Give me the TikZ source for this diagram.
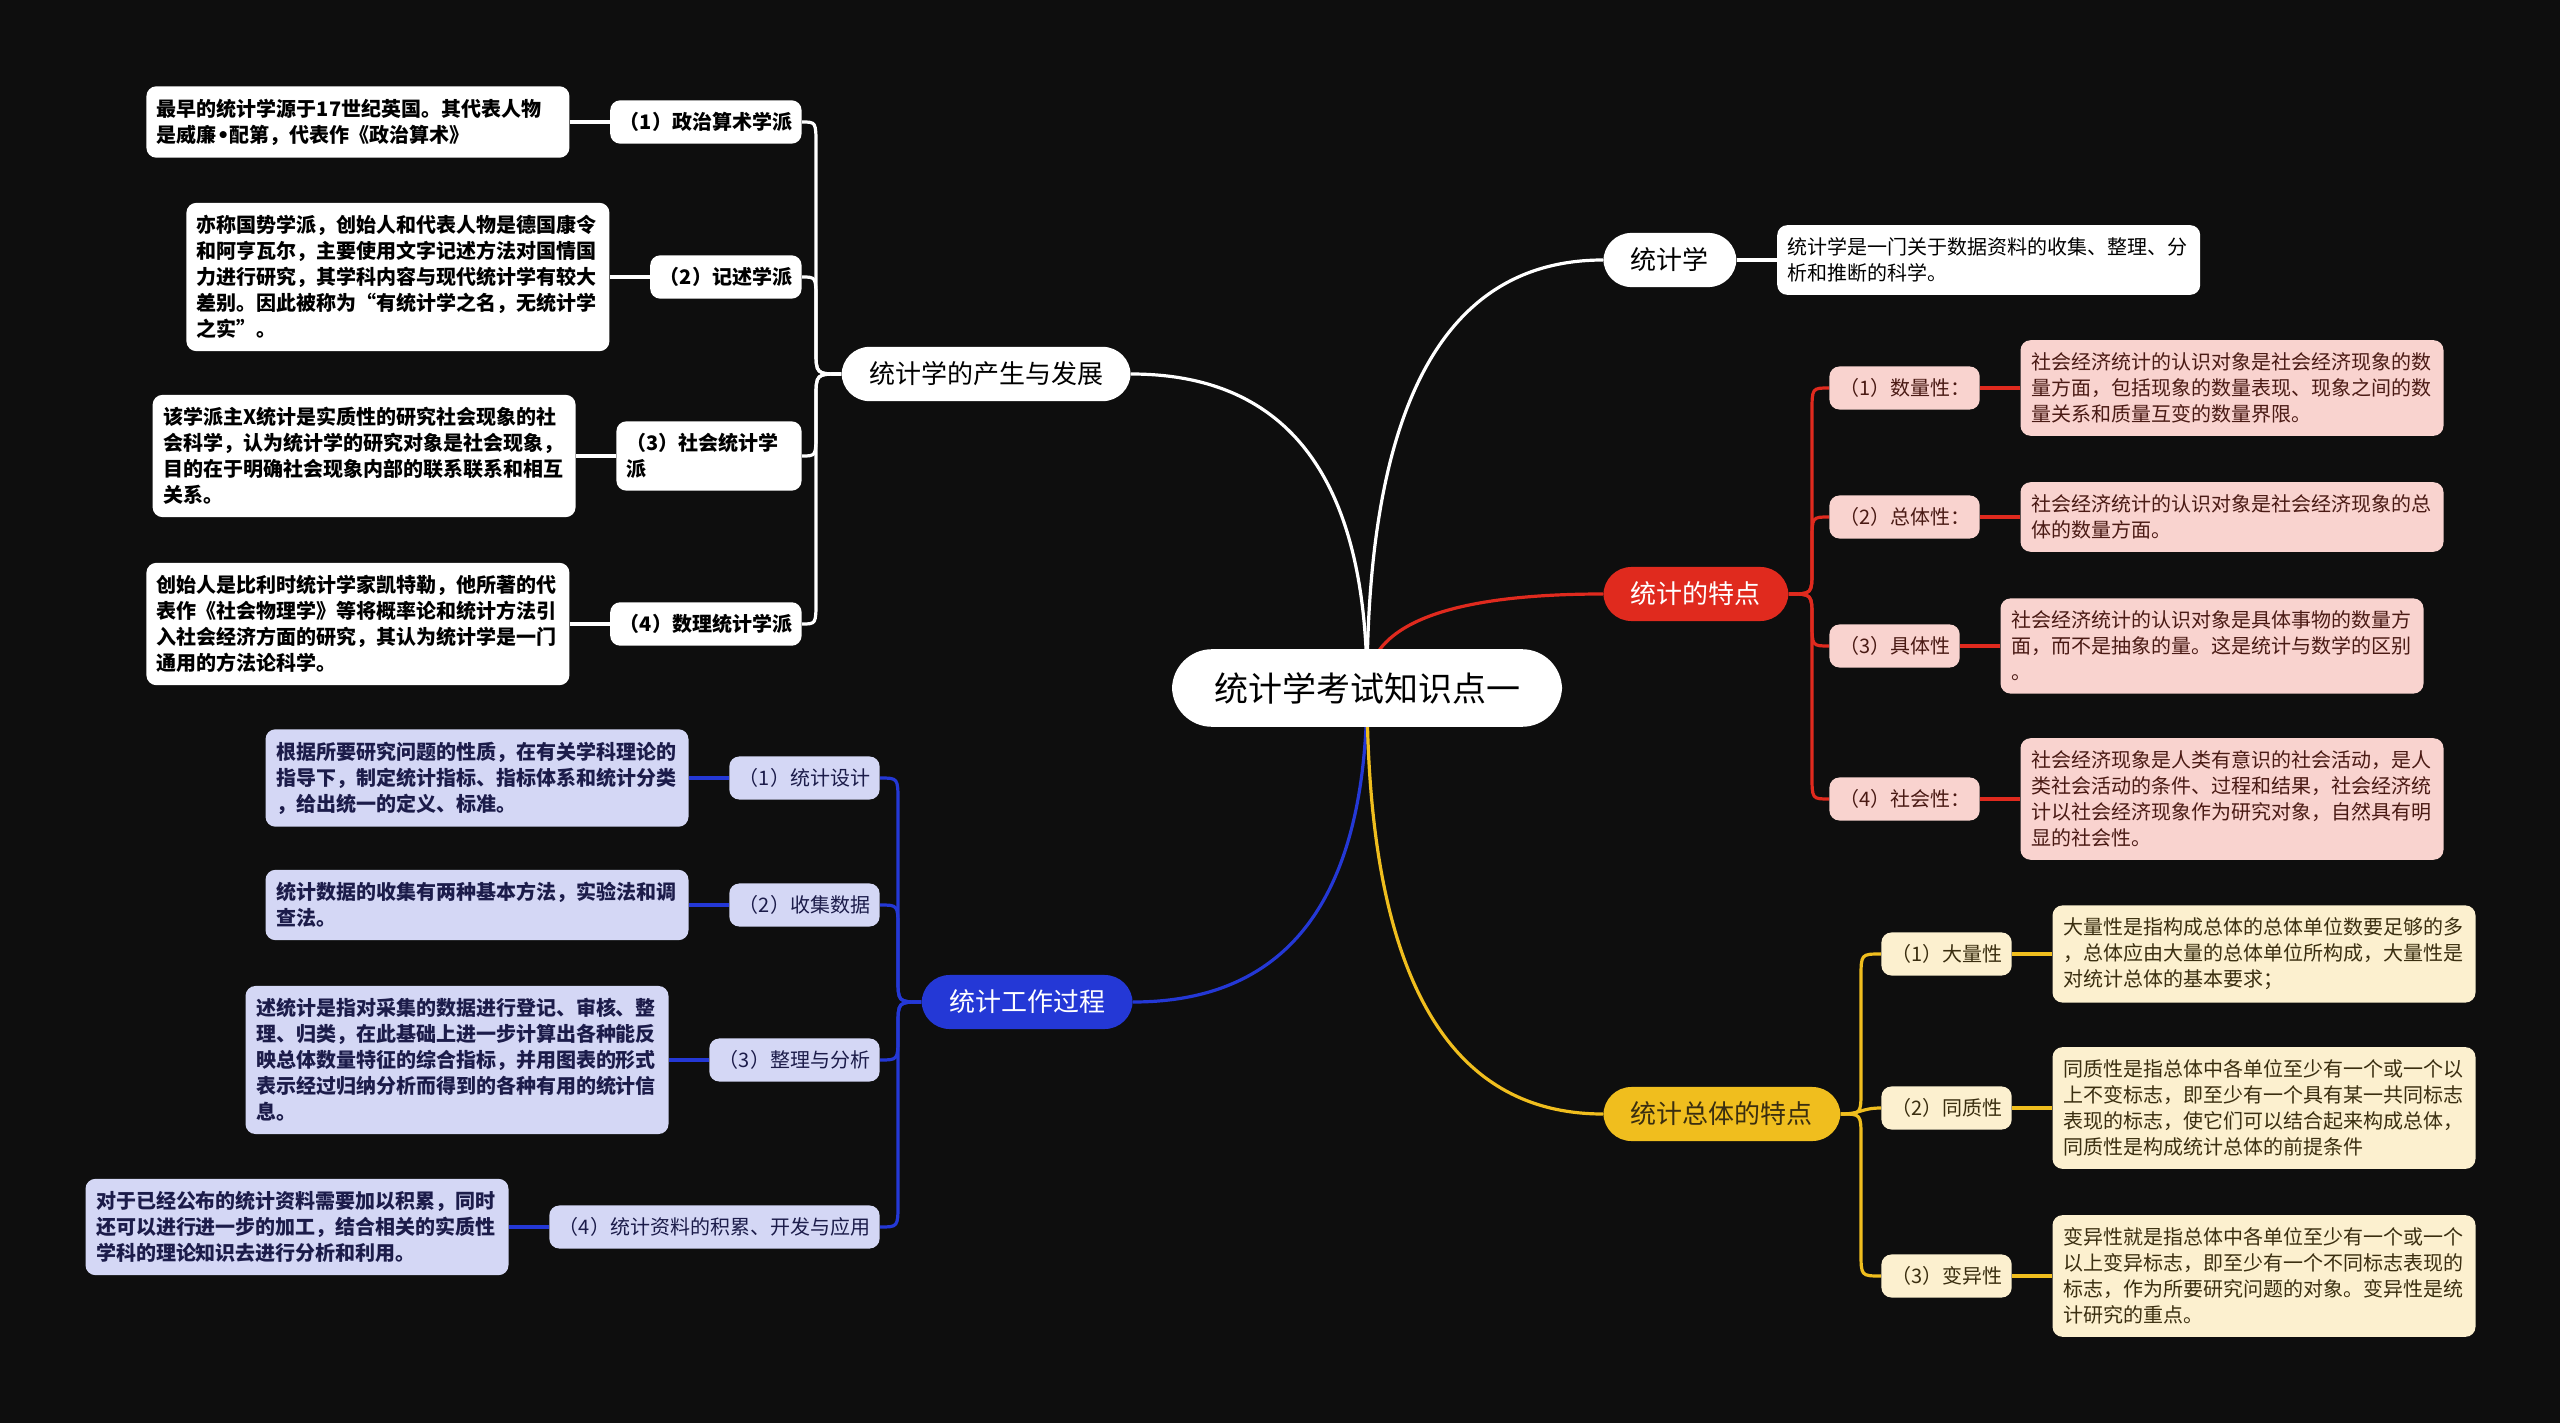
\documentclass[tikz,border=0pt]{standalone}
\usepackage{fontspec}
\setmainfont{Noto Sans CJK SC}
\newfontfamily\dvsans{DejaVu Sans}
\usetikzlibrary{calc}
\definecolor{bgc}{HTML}{0E0E0E}
\definecolor{bluec}{HTML}{2438D6}
\definecolor{redc}{HTML}{E02A1E}
\definecolor{yelc}{HTML}{F0BE1E}
\definecolor{lavc}{HTML}{D4D7F5}
\definecolor{pinkc}{HTML}{F9D3CF}
\definecolor{creamc}{HTML}{FCF0CF}
\definecolor{btext}{HTML}{1C1C4A}
\definecolor{rtext}{HTML}{4A1A14}
\definecolor{ytext}{HTML}{3A2E10}
\pgfdeclarelayer{bgzero}
\pgfdeclarelayer{lines}
\pgfsetlayers{bgzero,lines,main}
\newcommand\mainlink[3]{\draw[#1] (#2) .. controls ($(#2)!2/3!(#2 |- #3)$) and ($(#3)!2/3!(#2 |- #3)$) .. (#3);}
\newcommand\buslink[6]{\draw[#1] (#2) .. controls (#4 |- #2) .. ($(#4 |- #2)+(0,#5)$) -- ($(#4 |- #3)+(0,#6)$) .. controls (#4 |- #3) .. (#3);}
\tikzset{
  rootbox/.style={fill=white, text=black, rounded corners=20pt, inner xsep=21pt, inner ysep=11.5pt, font=\fontsize{17pt}{20pt}\selectfont},
  mainbox/.style={rounded corners=14pt, inner xsep=13.75pt, inner ysep=7.5pt, font=\fontsize{13pt}{16pt}\selectfont},
  subbox/.style={rounded corners=5pt, inner xsep=4.8pt, inner ysep=6pt, align=left, font=\fontsize{10pt}{13pt}\selectfont},
  leafbox/.style={rounded corners=5pt, inner xsep=5.25pt, inner ysep=6.25pt, text width=201pt, align=left, font=\fontsize{10pt}{13pt}\selectfont},
  wsub/.style={subbox, fill=white, text=black, font=\fontsize{10pt}{13pt}\selectfont\bfseries},
  wleaf/.style={leafbox, fill=white, text=black, font=\fontsize{10pt}{13pt}\selectfont\bfseries},
  wleafr/.style={leafbox, fill=white, text=black},
  bsub/.style={subbox, fill=lavc, text=btext},
  bleaf/.style={leafbox, fill=lavc, text=btext, font=\fontsize{10pt}{13pt}\selectfont\bfseries},
  rsub/.style={subbox, fill=pinkc, text=rtext},
  rleaf/.style={leafbox, fill=pinkc, text=rtext},
  ysub/.style={subbox, fill=creamc, text=ytext},
  yleaf/.style={leafbox, fill=creamc, text=ytext},
  wline/.style={draw=white, line width=1.6pt},
  bline/.style={draw=bluec, line width=1.6pt},
  rline/.style={draw=redc, line width=1.6pt},
  yline/.style={draw=yelc, line width=1.6pt},
  wthick/.style={draw=white, line width=2.4pt},
  bthick/.style={draw=bluec, line width=2.4pt},
  rthick/.style={draw=redc, line width=2.4pt},
  ythick/.style={draw=yelc, line width=2.4pt},
}
\begin{document}
\begin{tikzpicture}[x=0.5pt,y=-0.5pt]
\begin{pgfonlayer}{bgzero}
\fill[bgc] (0,0) rectangle (2560,1423);
\end{pgfonlayer}
\useasboundingbox (0,0) rectangle (2560,1423);

% root and main branches
\node[rootbox] (root) at (1367,688) {统计学考试知识点一};
\node[mainbox, fill=white, text=black, anchor=east] (m1) at (1131,374) {统计学的产生与发展};
\node[mainbox, fill=bluec, text=white, anchor=east] (m2) at (1133,1002) {统计工作过程};
\node[mainbox, fill=white, text=black, anchor=west] (m3) at (1603,260) {统计学};
\node[mainbox, fill=redc, text=white, anchor=west] (m4) at (1603,594) {统计的特点};
\node[mainbox, fill=yelc, text=ytext, anchor=west] (m5) at (1603,1114) {统计总体的特点};

% bus coordinates
\coordinate (busw) at (816,0);
\coordinate (busb) at (898,0);
\coordinate (busr) at (1812,0);
\coordinate (busy) at (1861,0);

% white group
\node[wsub, anchor=east] (s11) at (802,122) {（1）政治算术学派};
\node[wsub, anchor=east] (s12) at (802,277) {（2）记述学派};
\node[wsub, anchor=east, text width=83pt] (s13) at (802,456) {（3）社会统计学\\派};
\node[wsub, anchor=east] (s14) at (802,624) {（4）数理统计学派};
\node[wleaf, anchor=east] (l11) at ($(s11.west)+(-40,0)$) {最早的统计学源于17世纪英国。其代表人物\\是威廉{\dvsans\bfseries •}配第，代表作《政治算术》};
\node[wleaf, anchor=east] (l12) at ($(s12.west)+(-40,0)$) {亦称国势学派，创始人和代表人物是德国康令\\和阿亨瓦尔，主要使用文字记述方法对国情国\\力进行研究，其学科内容与现代统计学有较大\\差别。因此被称为“有统计学之名，无统计学\\之实”。};
\node[wleaf, anchor=east] (l13) at ($(s13.west)+(-40,0)$) {该学派主X统计是实质性的研究社会现象的社\\会科学，认为统计学的研究对象是社会现象，\\目的在于明确社会现象内部的联系联系和相互\\关系。};
\node[wleaf, anchor=east] (l14) at ($(s14.west)+(-40,0)$) {创始人是比利时统计学家凯特勒，他所著的代\\表作《社会物理学》等将概率论和统计方法引\\入社会经济方面的研究，其认为统计学是一门\\通用的方法论科学。};

% blue group
\node[bsub, anchor=east] (s21) at (880,778) {（1）统计设计};
\node[bsub, anchor=east] (s22) at (880,905) {（2）收集数据};
\node[bsub, anchor=east] (s23) at (880,1060) {（3）整理与分析};
\node[bsub, anchor=east] (s24) at (880,1227) {（4）统计资料的积累、开发与应用};
\node[bleaf, anchor=east] (l21) at ($(s21.west)+(-40,0)$) {根据所要研究问题的性质，在有关学科理论的\\指导下，制定统计指标、指标体系和统计分类\\，给出统一的定义、标准。};
\node[bleaf, anchor=east] (l22) at ($(s22.west)+(-40,0)$) {统计数据的收集有两种基本方法，实验法和调\\查法。};
\node[bleaf, anchor=east] (l23) at ($(s23.west)+(-40,0)$) {述统计是指对采集的数据进行登记、审核、整\\理、归类，在此基础上进一步计算出各种能反\\映总体数量特征的综合指标，并用图表的形式\\表示经过归纳分析而得到的各种有用的统计信\\息。};
\node[bleaf, anchor=east] (l24) at ($(s24.west)+(-40,0)$) {对于已经公布的统计资料需要加以积累，同时\\还可以进行进一步的加工，结合相关的实质性\\学科的理论知识去进行分析和利用。};

% 统计学 leaf
\node[wleafr, anchor=west] (l3) at ($(m3.east)+(40,0)$) {统计学是一门关于数据资料的收集、整理、分\\析和推断的科学。};

% red group
\node[rsub, anchor=west] (s41) at (1829,388) {（1）数量性：};
\node[rsub, anchor=west] (s42) at (1829,517) {（2）总体性：};
\node[rsub, anchor=west] (s43) at (1829,646) {（3）具体性};
\node[rsub, anchor=west] (s44) at (1829,799) {（4）社会性：};
\node[rleaf, anchor=west] (l41) at ($(s41.east)+(40,0)$) {社会经济统计的认识对象是社会经济现象的数\\量方面，包括现象的数量表现、现象之间的数\\量关系和质量互变的数量界限。};
\node[rleaf, anchor=west] (l42) at ($(s42.east)+(40,0)$) {社会经济统计的认识对象是社会经济现象的总\\体的数量方面。};
\node[rleaf, anchor=west] (l43) at ($(s43.east)+(40,0)$) {社会经济统计的认识对象是具体事物的数量方\\面，而不是抽象的量。这是统计与数学的区别\\。};
\node[rleaf, anchor=west] (l44) at ($(s44.east)+(40,0)$) {社会经济现象是人类有意识的社会活动，是人\\类社会活动的条件、过程和结果，社会经济统\\计以社会经济现象作为研究对象，自然具有明\\显的社会性。};

% yellow group
\node[ysub, anchor=west] (s51) at (1881,954) {（1）大量性};
\node[ysub, anchor=west] (s52) at (1881,1108) {（2）同质性};
\node[ysub, anchor=west] (s53) at (1881,1276) {（3）变异性};
\node[yleaf, anchor=west] (l51) at ($(s51.east)+(40,0)$) {大量性是指构成总体的总体单位数要足够的多\\，总体应由大量的总体单位所构成，大量性是\\对统计总体的基本要求；};
\node[yleaf, anchor=west] (l52) at ($(s52.east)+(40,0)$) {同质性是指总体中各单位至少有一个或一个以\\上不变标志，即至少有一个具有某一共同标志\\表现的标志，使它们可以结合起来构成总体，\\同质性是构成统计总体的前提条件};
\node[yleaf, anchor=west] (l53) at ($(s53.east)+(40,0)$) {变异性就是指总体中各单位至少有一个或一个\\以上变异标志，即至少有一个不同标志表现的\\标志，作为所要研究问题的对象。变异性是统\\计研究的重点。};

\begin{pgfonlayer}{lines}
% root to main branches
\mainlink{wline}{root.center}{m1.east}
\mainlink{bline}{root.center}{m2.east}
\mainlink{wline}{root.center}{m3.west}
\mainlink{rline}{root.center}{m4.west}
\mainlink{yline}{root.center}{m5.west}
% white bus
\buslink{wline}{s11.east}{m1.west}{busw}{24}{-24}
\buslink{wline}{s12.east}{m1.west}{busw}{24}{-24}
\buslink{wline}{s13.east}{m1.west}{busw}{-24}{24}
\buslink{wline}{s14.east}{m1.west}{busw}{-24}{24}
% blue bus
\buslink{bline}{s21.east}{m2.west}{busb}{24}{-24}
\buslink{bline}{s22.east}{m2.west}{busb}{24}{-24}
\buslink{bline}{s23.east}{m2.west}{busb}{-24}{24}
\buslink{bline}{s24.east}{m2.west}{busb}{-24}{24}
% red bus
\buslink{rline}{s41.west}{m4.east}{busr}{24}{-24}
\buslink{rline}{s42.west}{m4.east}{busr}{24}{-24}
\buslink{rline}{s43.west}{m4.east}{busr}{-24}{24}
\buslink{rline}{s44.west}{m4.east}{busr}{-24}{24}
% yellow bus
\buslink{yline}{s51.west}{m5.east}{busy}{24}{-24}
\draw[yline] (m5.east) .. controls (busy |- m5.east) and (busy |- s52.west) .. (s52.west);
\buslink{yline}{s53.west}{m5.east}{busy}{-24}{24}
% leaf links
\draw[wthick] (l11.east) -- (s11.west);
\draw[wthick] (l12.east) -- (s12.west);
\draw[wthick] (l13.east) -- (s13.west);
\draw[wthick] (l14.east) -- (s14.west);
\draw[bthick] (l21.east) -- (s21.west);
\draw[bthick] (l22.east) -- (s22.west);
\draw[bthick] (l23.east) -- (s23.west);
\draw[bthick] (l24.east) -- (s24.west);
\draw[wthick] (m3.east) -- (l3.west);
\draw[rthick] (s41.east) -- (l41.west);
\draw[rthick] (s42.east) -- (l42.west);
\draw[rthick] (s43.east) -- (l43.west);
\draw[rthick] (s44.east) -- (l44.west);
\draw[ythick] (s51.east) -- (l51.west);
\draw[ythick] (s52.east) -- (l52.west);
\draw[ythick] (s53.east) -- (l53.west);
\end{pgfonlayer}
\end{tikzpicture}
\end{document}
